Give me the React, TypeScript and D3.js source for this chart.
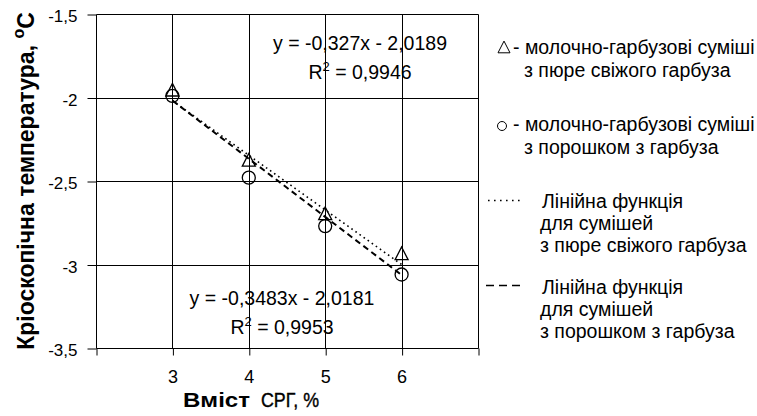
import React, { useRef, useEffect } from 'react'
import * as d3 from 'd3'

// Вміст СРГ, %
const xValues = [3, 4, 5, 6]
// молочно-гарбузові суміші з пюре свіжого гарбуза (трикутники)
const pureeValues = [-1.96, -2.38, -2.7, -2.94]
// молочно-гарбузові суміші з порошком з гарбуза (кола)
const powderValues = [-1.99, -2.48, -2.77, -3.06]
// лінійні тренди: [нахил, зсув], x = номер точки (0..3)
const pureeTrend = [-0.327, -2.0189]
const powderTrend = [-0.3483, -2.0181]

const yTicks = [-3.5, -3, -2.5, -2, -1.5]
const xTicks = [2, 3, 4, 5, 6, 7]
const xTickLabels = ['', '3', '4', '5', '6', '']

const pureeLabel = ['- молочно-гарбузові суміші', 'з пюре свіжого гарбуза']
const powderLabel = ['- молочно-гарбузові суміші', 'з  порошком з гарбуза']
const pureeLineLabel = ['Лінійна функція', 'для сумішей', 'з пюре свіжого гарбуза']
const powderLineLabel = ['Лінійна функція', 'для сумішей', 'з порошком з гарбуза']

const FONT = "'Liberation Sans', Arial, sans-serif"

const Chart = () => {
	const svgRef = useRef<SVGSVGElement>(null)

	useEffect(() => {
		const svg = d3.select(svgRef.current)
		svg.selectAll('*').remove()

		const width = 757
		const height = 416
		const margin = { top: 14, right: 279, bottom: 68, left: 96 }

		svg.attr('width', width).attr('height', height)
		svg.append('rect').attr('width', width).attr('height', height).attr('fill', '#fff')

		const x = d3.scaleLinear().domain([2, 7]).range([margin.left, width - margin.right])
		const y = d3.scaleLinear().domain([-3.5, -1.5]).range([height - margin.bottom, margin.top])

		const fmt = (v: number) => String(v).replace('.', ',')
		const px = (v: number) => Math.round(v) + 0.5

		// сітка і рамка
		const grid = svg.append('g').attr('stroke', '#000').attr('stroke-width', 1)
		yTicks.forEach(t => {
			grid.append('line')
				.attr('x1', px(x(2))).attr('x2', px(x(7)))
				.attr('y1', px(y(t))).attr('y2', px(y(t)))
		})
		xTicks.forEach(t => {
			grid.append('line')
				.attr('x1', px(x(t))).attr('x2', px(x(t)))
				.attr('y1', px(y(-1.5))).attr('y2', px(y(-3.5)))
		})

		// осі
		const yAxis = d3.axisLeft(y).tickValues(yTicks).tickSize(9).tickFormat(d => fmt(d as number))
		svg.append('g')
			.attr('transform', `translate(${px(x(2))},0)`)
			.call(yAxis)
			.call(g => g.select('.domain').remove())
			.call(g => g.selectAll('line').attr('stroke', '#000').attr('y1', 0.5).attr('y2', 0.5))
			.call(g => g.selectAll('text')
				.attr('font-family', FONT).attr('font-size', 17).attr('fill', '#000')
				.attr('x', -19).attr('dy', '0.45em'))

		const xAxis = d3.axisBottom(x).tickValues(xTicks).tickSize(7).tickFormat((d, i) => xTickLabels[i])
		svg.append('g')
			.attr('transform', `translate(0,${px(y(-3.5))})`)
			.call(xAxis)
			.call(g => g.select('.domain').remove())
			.call(g => g.selectAll('line').attr('stroke', '#000').attr('x1', 0.5).attr('x2', 0.5))
			.call(g => g.selectAll('text')
				.attr('font-family', FONT).attr('font-size', 18).attr('fill', '#000')
				.attr('y', 34).attr('dy', 0))

		// лінії трендів
		const trendLine = (tr: number[]) =>
			d3.line<number>()
				.x(d => x(d))
				.y(d => y(tr[0] * (d - xValues[0]) + tr[1]))
		svg.append('path')
			.datum(xValues)
			.attr('fill', 'none').attr('stroke', '#000').attr('stroke-width', 1.6)
			.attr('stroke-dasharray', '1.6,3.4')
			.attr('d', trendLine(pureeTrend))
		svg.append('path')
			.datum(xValues)
			.attr('fill', 'none').attr('stroke', '#000').attr('stroke-width', 2)
			.attr('stroke-dasharray', '6,4')
			.attr('d', trendLine(powderTrend))

		// маркери
		const tri = (cx: number, cy: number, s: number) =>
			`M${cx},${cy - s * 1.15}L${cx + s},${cy + s * 0.8}L${cx - s},${cy + s * 0.8}Z`
		svg.selectAll('.tri')
			.data(xValues)
			.enter()
			.append('path')
			.attr('class', 'tri')
			.attr('d', (d, i) => tri(x(d), y(pureeValues[i]), 6.5))
			.attr('fill', 'none').attr('stroke', '#000').attr('stroke-width', 1.3)
		svg.selectAll('.dot')
			.data(xValues)
			.enter()
			.append('circle')
			.attr('class', 'dot')
			.attr('cx', d => x(d))
			.attr('cy', (d, i) => y(powderValues[i]))
			.attr('r', 6.5)
			.attr('fill', 'none').attr('stroke', '#000').attr('stroke-width', 1.3)

		// рівняння
		const eq = svg.append('g').attr('font-family', FONT).attr('font-size', 19.5).attr('fill', '#000')
			.attr('text-anchor', 'middle')
		const writeEq = (tr: number[], r2: string, cx: number, by: number) => {
			eq.append('text').attr('x', cx).attr('y', by)
				.text(`y = ${fmt(tr[0])}x - ${fmt(-tr[1])}`)
			const t = eq.append('text').attr('x', cx).attr('y', by + 29)
			t.append('tspan').text('R')
			t.append('tspan').attr('dy', -8).attr('font-size', 13).text('2')
			t.append('tspan').attr('dy', 8).text(` = ${r2}`)
		}
		writeEq(pureeTrend, '0,9946', 360, 50)
		writeEq(powderTrend, '0,9953', 282, 305)

		// легенда
		const leg = svg.append('g').attr('font-family', FONT).attr('font-size', 19.5).attr('fill', '#000')
		const lines = (rows: string[], xs: number[], y0: number, step: number) =>
			rows.forEach((r, i) => leg.append('text').attr('x', xs[i]).attr('y', y0 + i * step).text(r))

		leg.append('path').attr('d', tri(504, 48, 6)).attr('fill', 'none').attr('stroke', '#000')
		lines(pureeLabel, [513, 524], 54, 23)
		leg.append('circle').attr('cx', 502).attr('cy', 126).attr('r', 4.5).attr('fill', 'none').attr('stroke', '#000')
		lines(powderLabel, [513, 524], 131, 23)

		leg.append('line').attr('x1', 488).attr('x2', 524).attr('y1', 200.5).attr('y2', 200.5)
			.attr('stroke', '#000').attr('stroke-width', 1.4).attr('stroke-dasharray', '1.6,4.4')
		lines(pureeLineLabel, [542, 540, 540], 208, 22)
		leg.append('line').attr('x1', 486).attr('x2', 525).attr('y1', 285.5).attr('y2', 285.5)
			.attr('stroke', '#000').attr('stroke-width', 1.4).attr('stroke-dasharray', '8,5')
		lines(powderLineLabel, [542, 540, 540], 294, 22)

		// назви осей
		svg.append('text')
			.attr('x', 183).attr('y', 407)
			.attr('font-family', FONT).attr('fill', '#000')
			.attr('font-size', 21).attr('font-weight', 'bold')
			.attr('textLength', 67).attr('lengthAdjust', 'spacingAndGlyphs')
			.text('Вміст')
		svg.append('text')
			.attr('x', 261).attr('y', 407)
			.attr('font-family', FONT).attr('fill', '#000')
			.attr('font-size', 20).attr('stroke', '#000').attr('stroke-width', 0.4)
			.attr('textLength', 58).attr('lengthAdjust', 'spacingAndGlyphs')
			.text('СРГ, %')

		const yt = svg.append('text')
			.attr('transform', `translate(34,${(y(-1.5) + y(-3.5)) / 2}) rotate(-90)`)
			.attr('text-anchor', 'middle')
			.attr('font-family', FONT).attr('font-size', 23).attr('font-weight', 'bold').attr('fill', '#000')
		yt.append('tspan').text('Кріоскопічна  температура, ')
		yt.append('tspan').attr('dy', -10).attr('font-size', 16).text('o')
		yt.append('tspan').attr('dy', 10).text('C')
	}, [])

	return <svg ref={svgRef} style={{ position: 'absolute', left: 0, top: 0 }}></svg>
}

export default function App() {
	return <Chart />
}
